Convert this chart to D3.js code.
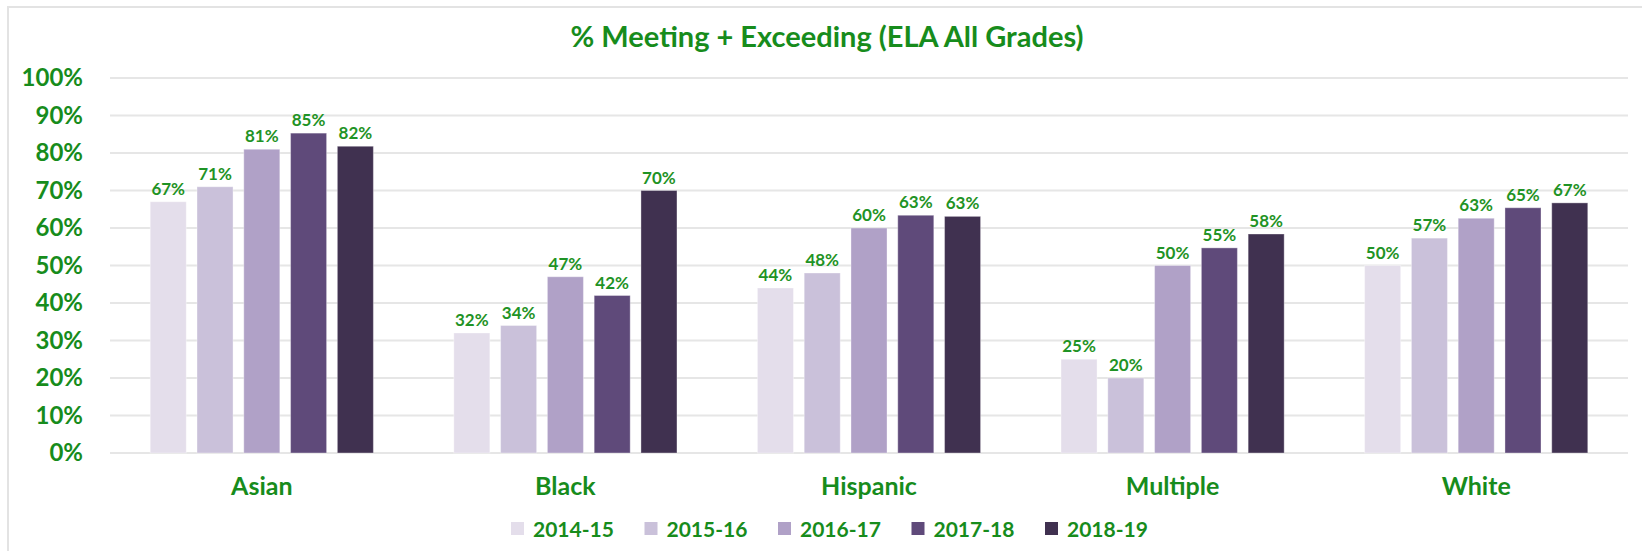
<html>
<head>
<script src="https://d3js.org/d3.v7.min.js"></script>
<style>
body { margin: 0; background: #fff; }
text { font-family: Lato, "Open Sans", sans-serif; font-weight: bold; }
</style>
</head>
<body>
<script>
var width = 1642;
var height = 551;
var margin = {top: 78, right: 14, bottom: 98, left: 110};
var w = width - margin.left - margin.right;
var h = height - margin.top - margin.bottom;

// data (percent)
var groups = ["Asian", "Black", "Hispanic", "Multiple", "White"];
var years = ["2014-15", "2015-16", "2016-17", "2017-18", "2018-19"];
var asian    = [67, 71, 81, 85.3, 81.8];
var black    = [32, 34, 47, 42, 70];
var hispanic = [44, 48, 60, 63.4, 63.1];
var multiple = [25, 20, 50, 54.7, 58.4];
var white    = [50, 57.3, 62.6, 65.4, 66.7];
var yTicks = [0, 10, 20, 30, 40, 50, 60, 70, 80, 90, 100];
var colors = ["#e4deeb", "#cac1da", "#b0a1c7", "#5f4a7a", "#403150"];

var rows = [asian, black, hispanic, multiple, white];
var green = "#178c1c";

var svg = d3.select("body").append("svg")
    .attr("width", width)
    .attr("height", height);

// outer frame
svg.append("rect")
    .attr("x", 8).attr("y", 7)
    .attr("width", width + 10).attr("height", height + 10)
    .attr("fill", "none")
    .attr("stroke", "#e3e3e3")
    .attr("stroke-width", 2);

svg.append("text")
    .attr("x", 827).attr("y", 47)
    .attr("text-anchor", "middle")
    .attr("fill", green)
    .style("font-size", "29px")
    .text("% Meeting + Exceeding (ELA All Grades)");

var g = svg.append("g")
    .attr("transform", "translate(" + margin.left + "," + margin.top + ")");

var x0 = d3.scaleBand()
    .domain(groups)
    .range([0, w])
    .paddingInner(0.265)
    .paddingOuter(0.1325);
var x1 = d3.scaleBand()
    .domain(years)
    .range([0, x0.bandwidth()])
    .paddingInner(0.23);
var y = d3.scaleLinear()
    .domain([0, 100])
    .range([h, 0]);
var z = d3.scaleOrdinal().domain(years).range(colors);

// grid
g.append("g")
  .selectAll("line")
  .data(yTicks)
  .enter().append("line")
    .attr("x1", 0).attr("x2", w)
    .attr("y1", function(d) { return y(d); })
    .attr("y2", function(d) { return y(d); })
    .attr("stroke", "#e6e6e6")
    .attr("stroke-width", 2);

var yAxis = g.append("g")
    .call(d3.axisLeft(y).tickValues(yTicks).tickSize(0).tickPadding(27)
      .tickFormat(function(d) { return d + "%"; }));
yAxis.select(".domain").remove();
yAxis.selectAll("text")
    .attr("fill", green)
    .style("font-size", "24px")
    .style("font-family", "Lato, sans-serif");

var groupG = g.append("g")
  .selectAll("g")
  .data(groups)
  .enter().append("g")
    .attr("transform", function(d) { return "translate(" + x0(d) + ",0)"; });

var bars = groupG.selectAll("g")
  .data(function(d, i) {
    return years.map(function(yr, j) { return {year: yr, value: rows[i][j]}; });
  })
  .enter().append("g");

bars.append("rect")
    .attr("x", function(d) { return x1(d.year); })
    .attr("y", function(d) { return y(d.value); })
    .attr("width", x1.bandwidth())
    .attr("height", function(d) { return h - y(d.value); })
    .attr("fill", function(d) { return z(d.year); })
    .attr("stroke", "#ffffff")
    .attr("stroke-opacity", 0.35)
    .attr("stroke-width", 1);

bars.append("text")
    .attr("x", function(d) { return x1(d.year) + x1.bandwidth() / 2; })
    .attr("y", function(d) { return y(d.value) - 7; })
    .attr("text-anchor", "middle")
    .attr("fill", "#1f9325")
    .style("font-size", "17px")
    .text(function(d) { return Math.round(d.value) + "%"; });

// category labels
g.append("g")
  .selectAll("text")
  .data(groups)
  .enter().append("text")
    .attr("x", function(d) { return x0(d) + x0.bandwidth() / 2; })
    .attr("y", h + 42)
    .attr("text-anchor", "middle")
    .attr("fill", green)
    .style("font-size", "25px")
    .text(function(d) { return d; });

// legend
var legend = svg.append("g")
  .selectAll("g")
  .data(years)
  .enter().append("g")
    .attr("transform", function(d, i) { return "translate(" + (511 + i * 133.5) + ",522)"; });
legend.append("rect")
    .attr("width", 13).attr("height", 13)
    .attr("fill", z);
legend.append("text")
    .attr("x", 22)
    .attr("y", 7)
    .attr("dy", "0.36em")
    .attr("fill", green)
    .style("font-size", "21px")
    .text(function(d) { return d; });
</script>
</body>
</html>
